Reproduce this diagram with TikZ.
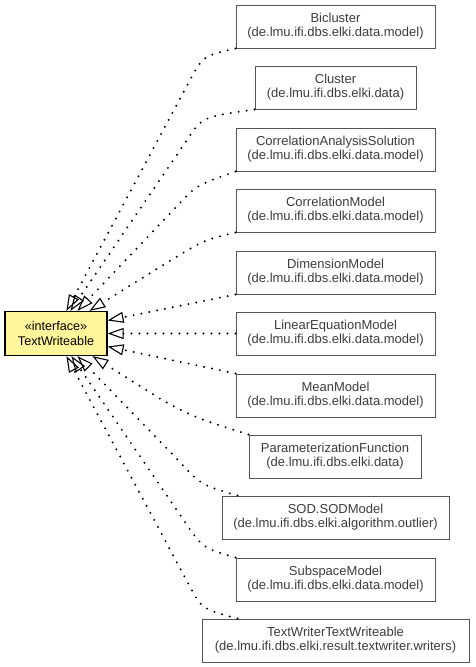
\documentclass[tikz,border=0pt]{standalone}
\usepackage{fontspec}
\setmainfont{Liberation Sans}
\usetikzlibrary{arrows.meta,calc}
\definecolor{ifill}{RGB}{255,245,155}
\definecolor{bline}{RGB}{85,85,85}
\definecolor{btext}{RGB}{60,60,60}
\begin{document}
\begin{tikzpicture}[x=1pt,y=-1pt,
 cls/.style={draw=bline, line width=1pt, text=btext, minimum height=43pt, inner sep=0pt, align=center, font=\fontsize{13}{14}\selectfont},
 iface/.style={draw=black, line width=1.2pt, fill=ifill, minimum width=102pt, minimum height=44pt, inner sep=0pt, align=center, font=\fontsize{12.6}{15}\selectfont},
 impl/.style={line width=2.2pt, dash pattern=on 0pt off 8pt, line cap=round, -{Triangle[open, length=16pt, width=11pt, line width=1.1pt]}}]
\useasboundingbox (0,0) rectangle (475,667);
\node[iface] (i) at (56,333.5) {«interface»\\TextWriteable};
\node[cls, minimum width=199pt] (b1) at (335.5,26.5) {Bicluster\\(de.lmu.ifi.dbs.elki.data.model)};
\node[cls, minimum width=161pt] (b2) at (335.5,87.5) {Cluster\\(de.lmu.ifi.dbs.elki.data)};
\node[cls, minimum width=199pt] (b3) at (335.5,149.5) {CorrelationAnalysisSolution\\(de.lmu.ifi.dbs.elki.data.model)};
\node[cls, minimum width=199pt] (b4) at (335.5,210.5) {CorrelationModel\\(de.lmu.ifi.dbs.elki.data.model)};
\node[cls, minimum width=199pt] (b5) at (335.5,272.5) {DimensionModel\\(de.lmu.ifi.dbs.elki.data.model)};
\node[cls, minimum width=199pt] (b6) at (335.5,333.5) {LinearEquationModel\\(de.lmu.ifi.dbs.elki.data.model)};
\node[cls, minimum width=199pt] (b7) at (335.5,395.5) {MeanModel\\(de.lmu.ifi.dbs.elki.data.model)};
\node[cls, minimum width=172pt] (b8) at (335,456.5) {ParameterizationFunction\\(de.lmu.ifi.dbs.elki.data)};
\node[cls, minimum width=227pt] (b9) at (335.5,517.5) {SOD.SODModel\\(de.lmu.ifi.dbs.elki.algorithm.outlier)};
\node[cls, minimum width=199pt] (b10) at (335.5,579.5) {SubspaceModel\\(de.lmu.ifi.dbs.elki.data.model)};
\node[cls, minimum width=267pt] (b11) at (335.5,640.5) {TextWriterTextWriteable\\(de.lmu.ifi.dbs.elki.result.textwriter.writers)};
\draw[impl] (b1.south west) .. controls (203,56) .. (190,80) -- ($(i.north west)+(62,0)$);
\draw[impl] (b2.south west) .. controls (202,117) .. (187,140) -- ($(i.north west)+(66,0)$);
\draw[impl] (b3.south west) .. controls (197,185) .. (178,205) -- ($(i.north west)+(73,0)$);
\draw[impl] (b4.south west) .. controls (204,240) .. (168,262) -- ($(i.north west)+(85,0)$);
\draw[impl] (b5.south west) -- ($(i.east)+(0,-13)$);
\draw[impl] (b6.west) -- (i.east);
\draw[impl] (b7.north west) -- ($(i.east)+(0,13)$);
\draw[impl] (b8.north west) .. controls (196,418) .. (162,400) -- ($(i.south west)+(88,0)$);
\draw[impl] ($(b9.north west)+(16,0)$) .. controls (201,485) .. (178,460) -- ($(i.south west)+(73,0)$);
\draw[impl] (b10.north west) .. controls (203,548) .. (187,525) -- ($(i.south west)+(67,0)$);
\draw[impl] ($(b11.north west)+(36,0)$) .. controls (202,609) .. (189,585) -- ($(i.south west)+(62,0)$);
\end{tikzpicture}
\end{document}
